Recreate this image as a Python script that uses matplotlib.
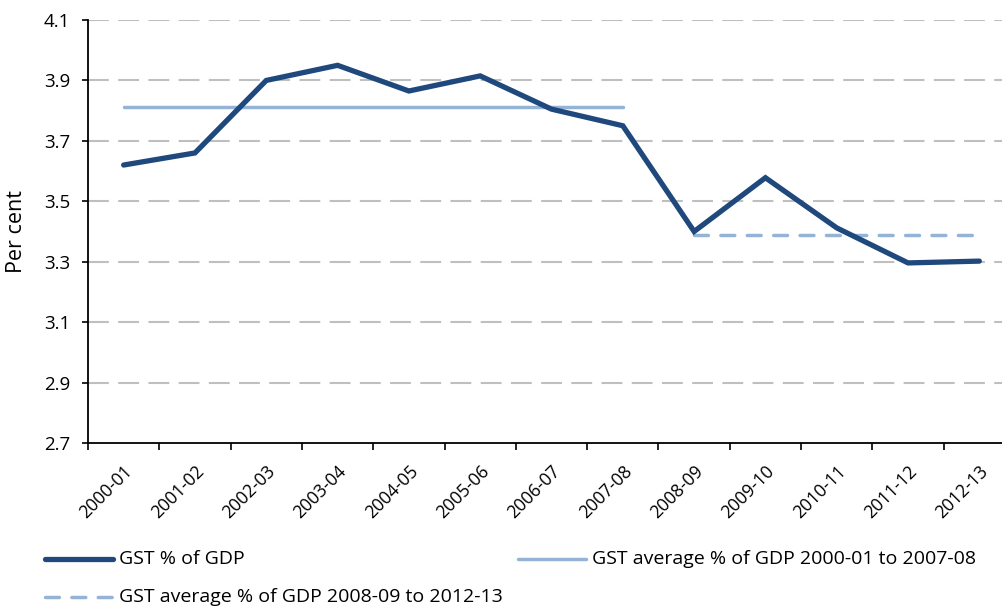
import matplotlib

matplotlib.use("Agg")

import matplotlib.pyplot as plt
from matplotlib.lines import Line2D
import numpy as np

plt.rcParams["font.family"] = ["Open Sans", "DejaVu Sans"]

YEARS = ["2000-01", "2001-02", "2002-03", "2003-04", "2004-05", "2005-06",
         "2006-07", "2007-08", "2008-09", "2009-10", "2010-11", "2011-12",
         "2012-13"]
GST_PCT_GDP = [3.62, 3.66, 3.90, 3.95, 3.865, 3.915, 3.805, 3.75, 3.40,
               3.578, 3.412, 3.296, 3.302]
AVG_EARLY = 3.813   # 2000-01 to 2007-08
AVG_LATE = 3.39     # 2008-09 to 2012-13
EARLY_END = 7       # index of 2007-08

LABELS = ["GST % of GDP",
          "GST average % of GDP 2000-01 to 2007-08",
          "GST average % of GDP 2008-09 to 2012-13"]

DARK = "#1F497D"
LIGHT = "#95B3D7"
GRID = "#BFBFBF"

W, H = 1003, 608
fig = plt.figure(figsize=(W / 100, H / 100), dpi=100)
# right edge runs past the canvas, so the last category is cut off
ax = fig.add_axes([88 / W, 1 - 443 / H, (1015 - 88) / W, (443 - 20) / H])

x = np.arange(len(YEARS))
ax.plot(x, GST_PCT_GDP, color=DARK, lw=3.8, solid_capstyle="round",
        solid_joinstyle="miter", zorder=4)
ax.plot([0, EARLY_END], [AVG_EARLY] * 2, color=LIGHT, lw=2.5,
        solid_capstyle="round", zorder=3)
ax.plot([EARLY_END + 1, len(YEARS) - 1], [AVG_LATE] * 2, color=LIGHT, lw=2.5,
        dashes=(4, 3.6), dash_capstyle="round", zorder=3)

ax.set_xlim(-0.5, len(YEARS) - 0.5)
ax.set_ylim(2.7, 4.1)
ax.set_yticks(np.arange(2.7, 4.11, 0.2))
ax.yaxis.set_major_formatter(matplotlib.ticker.FormatStrFormatter("%.1f"))
for yv in np.arange(2.9, 4.11, 0.2):
    ax.axhline(yv, color=GRID, lw=1.5, dashes=(10, 4.5), zorder=1)

# boundary ticks between categories, labels centred on each category
ax.set_xticks(np.arange(-0.5, len(YEARS), 1.0))
ax.set_xticklabels([])
ax.set_xticks(x, minor=True)
ax.set_xticklabels(YEARS, minor=True, rotation=45, ha="right",
                   rotation_mode="anchor", fontsize=12.7)
ax.tick_params(axis="x", which="minor", length=0, pad=14)
ax.tick_params(axis="x", which="major", length=5, width=1.2, direction="out")
ax.tick_params(axis="y", length=4, width=1.2, labelsize=13.5, pad=9)

for side in ("top", "right"):
    ax.spines[side].set_visible(False)
for side in ("left", "bottom"):
    ax.spines[side].set_linewidth(1.3)
ax.set_ylabel("Per cent", fontsize=15.5, labelpad=12)

# legend laid out in two columns below the axes
def legend_item(x0, y0, label, **style):
    fig.add_artist(Line2D([x0 / W, (x0 + 68) / W], [1 - y0 / H] * 2, **style))
    fig.text((x0 + 74) / W, 1 - y0 / H, label, fontsize=14, va="center")

legend_item(45, 559, LABELS[0], color=DARK, lw=3.8, solid_capstyle="round")
legend_item(518, 559, LABELS[1], color=LIGHT, lw=2.5, solid_capstyle="round")
legend_item(45, 597, LABELS[2], color=LIGHT, lw=2.5, dashes=(4, 3.6),
            dash_capstyle="round")

fig.savefig("out.png", dpi=100)
